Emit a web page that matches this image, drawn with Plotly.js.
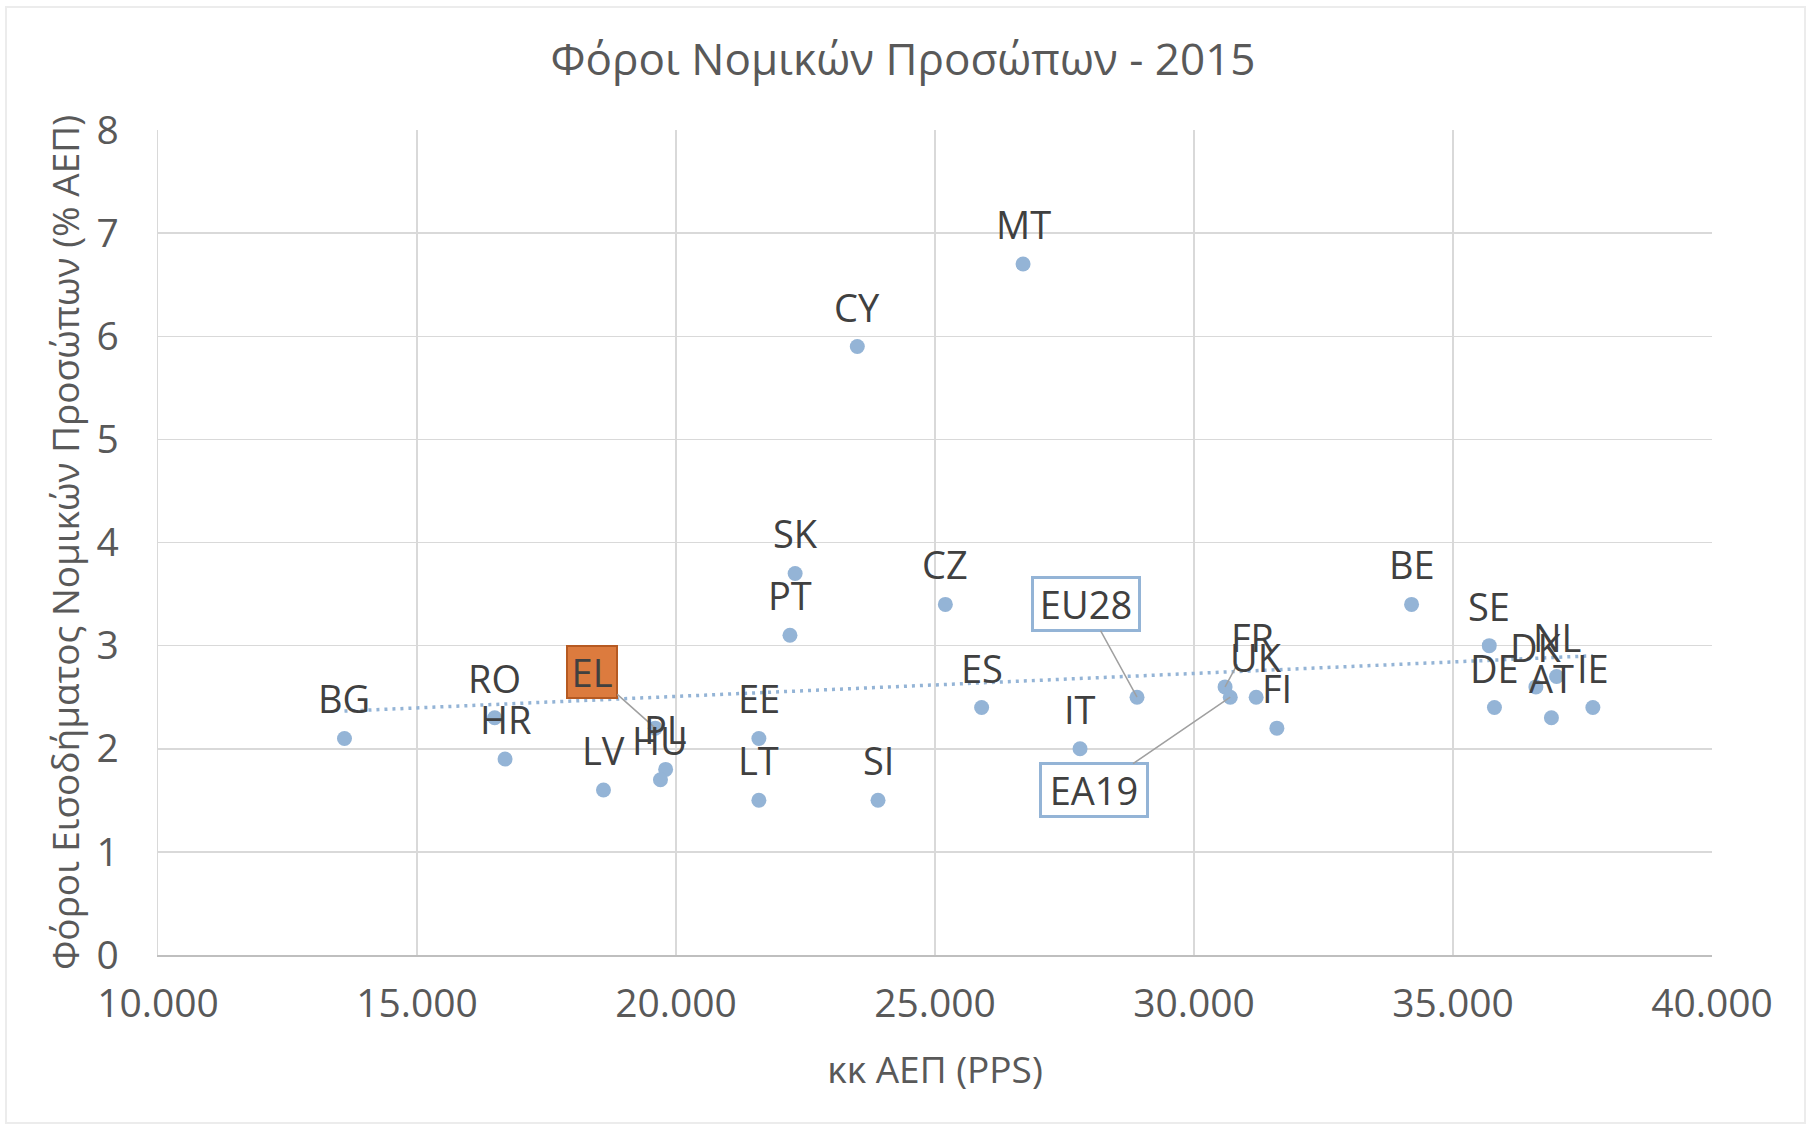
<!DOCTYPE html>
<html>
<head>
<meta charset="utf-8">
<script src="https://cdn.plot.ly/plotly-3.0.1.min.js"></script>
<style>
  html, body { margin: 0; padding: 0; background: #ffffff; }
  #wrap { position: relative; width: 1806px; height: 1125px; }
  #chart { width: 1806px; height: 1125px; }
  #frame { position: absolute; left: 5px; top: 6px; width: 1797px; height: 1114px;
           border: 2px solid #ececec; pointer-events: none; }
</style>
</head>
<body>
<div id="wrap"><div id="chart"></div><div id="frame"></div></div>
<script>
// ---- data ----
const countries = ['BG','RO','HR','LV','EL','PL','HU','EE','LT','PT','SK','CY','SI','CZ','ES','MT','IT','EU28','FR','EA19','UK','FI','BE','SE','DE','DK','AT','NL','IE'];
const gdpPPS   = [13600,16500,16700,18600,19600,19800,19700,21600,21600,22200,22300,23500,23900,25200,25900,26700,27800,28900,30600,30700,31200,31600,34200,35700,35800,36600,36900,37000,37700];
const citShare = [2.1,2.3,1.9,1.6,2.2,1.8,1.7,2.1,1.5,3.1,3.7,5.9,1.5,3.4,2.4,6.7,2.0,2.5,2.6,2.5,2.5,2.2,3.4,3.0,2.4,2.6,2.3,2.7,2.4];
const xTickVals = [10000,15000,20000,25000,30000,35000,40000];
const yTickVals = [0,1,2,3,4,5,6,7,8];

const titleText = 'Φόροι Νομικών Προσώπων - 2015';
const xTitle = 'κκ ΑΕΠ (PPS)';
const yTitle = 'Φόροι Εισοδήματος Νομικών Προσώπων (% ΑΕΠ)';

// ---- linear trendline (least squares over the plotted points) ----
const n = gdpPPS.length;
const mx = gdpPPS.reduce((a,b)=>a+b,0)/n;
const my = citShare.reduce((a,b)=>a+b,0)/n;
let sxy = 0, sxx = 0;
for (let i = 0; i < n; i++) { sxy += (gdpPPS[i]-mx)*(citShare[i]-my); sxx += (gdpPPS[i]-mx)**2; }
const slope = sxy/sxx, icpt = my - slope*mx;
const xmin = Math.min(...gdpPPS), xmax = Math.max(...gdpPPS);
const trendX = [xmin, xmax];
const trendY = trendX.map(v => icpt + slope*v);

// ---- styles ----
const FONT = "'Open Sans', 'Noto Sans', sans-serif";
const markerColor = '#94b4d6';
const labelColor = '#404040';
const axisText = '#595959';

// label placements that differ from the default (above the point)
const moved = {
  'EL':   {ax: -63, ay: -56, style: 'orange'},
  'EU28': {ax: -51, ay: -93, style: 'blue'},
  'EA19': {ax: -136, ay: 93, style: 'blue'},
  'FR':   {ax: 27, ay: -50, style: 'plain'}
};

const annotations = countries.map((c, i) => {
  const base = {
    x: gdpPPS[i], y: citShare[i], xref: 'x', yref: 'y', text: c,
    font: {family: FONT, size: 38, color: labelColor}
  };
  const m = moved[c];
  if (!m) return Object.assign(base, {showarrow: false, yshift: 40});
  Object.assign(base, {showarrow: true, ax: m.ax, ay: m.ay, axref: 'pixel', ayref: 'pixel',
    arrowhead: 0, arrowwidth: 1.5, arrowcolor: '#a0a0a0', standoff: 0, startstandoff: 0});
  if (m.style === 'orange') {
    Object.assign(base, {bgcolor: '#dc7b3e', bordercolor: '#b65a22', borderwidth: 2, borderpad: 0,
      width: 48, height: 50});
  } else if (m.style === 'blue') {
    Object.assign(base, {bgcolor: '#ffffff', bordercolor: '#94b4d6', borderwidth: 3, borderpad: 0,
      width: 104, height: 50});
  }
  return base;
});

const traces = [
  {
    x: trendX, y: trendY, type: 'scatter', mode: 'lines',
    line: {color: markerColor, width: 3.5, dash: '3px,5px'},
    hoverinfo: 'skip', showlegend: false
  },
  {
    x: gdpPPS, y: citShare, text: countries, type: 'scatter', mode: 'markers',
    marker: {color: markerColor, size: 15},
    hoverinfo: 'text', showlegend: false
  }
];

const layout = {
  width: 1806, height: 1125,
  paper_bgcolor: '#ffffff', plot_bgcolor: '#ffffff',
  separators: ',.',
  margin: {l: 158, r: 94, t: 130, b: 170, pad: 0},
  title: {text: titleText, x: 0.5, xanchor: 'center', y: 1 - 60/1125, yanchor: 'middle',
          font: {family: FONT, size: 44, color: axisText}},
  xaxis: {
    range: [10000, 40000], tickvals: xTickVals, tickformat: ',d',
    showgrid: true, gridcolor: '#d9d9d9', gridwidth: 1.5,
    showline: true, linecolor: '#bfbfbf', linewidth: 2,
    zeroline: false, ticks: '', ticklabelstandoff: 13,
    tickfont: {family: FONT, size: 39, color: axisText},
    title: {text: xTitle, font: {family: FONT, size: 37, color: axisText}, standoff: 30}
  },
  yaxis: {
    range: [0, 8], tickvals: yTickVals,
    showgrid: true, gridcolor: '#d9d9d9', gridwidth: 1.5,
    showline: true, linecolor: '#d9d9d9', linewidth: 1.5,
    zeroline: false, ticks: '', ticklabelstandoff: 30,
    tickfont: {family: FONT, size: 39, color: axisText},
    title: {text: yTitle, font: {family: FONT, size: 37, color: axisText}, standoff: 5}
  },
  annotations: annotations
};

Plotly.newPlot('chart', traces, layout, {displayModeBar: false, staticPlot: true});
</script>
</body>
</html>
